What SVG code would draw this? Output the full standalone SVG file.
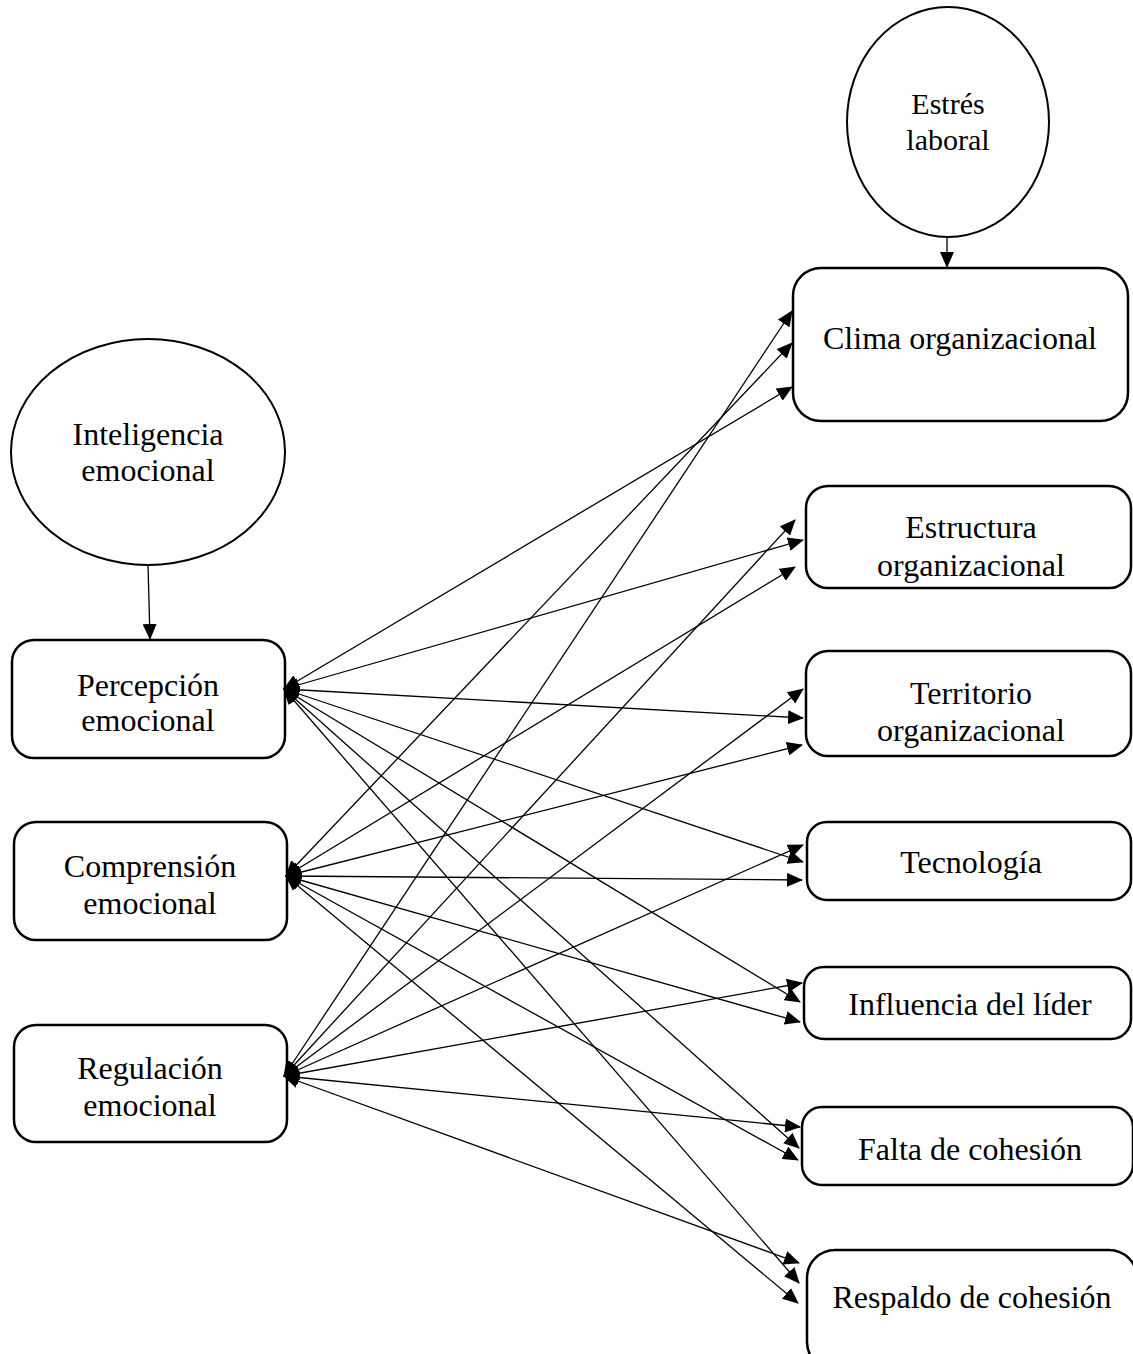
<svg xmlns="http://www.w3.org/2000/svg" width="1133" height="1354" viewBox="0 0 1133 1354">
<style>
.box{fill:#fff;stroke:#000;stroke-width:2.5}
.ell{fill:#fff;stroke:#000;stroke-width:2}
.t{font-family:"Liberation Serif","Times New Roman",serif;font-size:32px;fill:#000;text-anchor:middle}
.s{font-size:30px}
.c line{stroke:#000;stroke-width:1.3;marker-end:url(#ah);marker-start:url(#ah)}
.c line.one{marker-start:none}
</style>
<defs>
<marker id="ah" markerUnits="userSpaceOnUse" markerWidth="16" markerHeight="14" refX="15" refY="7" orient="auto-start-reverse" viewBox="0 0 16 14">
<path d="M0,0 L16,7 L0,14 Z" fill="#000"/>
</marker>
</defs>
<rect width="1133" height="1354" fill="#fff"/>
<g id="estres"><ellipse class="ell" cx="948" cy="122" rx="101" ry="115"/><text class="t s" x="948" y="114">Estrés</text><text class="t s" x="948" y="150">laboral</text></g>
<g id="inteligencia"><ellipse class="ell" cx="148" cy="452" rx="137" ry="113"/><text class="t" x="148" y="445">Inteligencia</text><text class="t" x="148" y="481">emocional</text></g>
<g id="percepcion"><rect class="box" x="12" y="640" width="273" height="118" rx="22"/><text class="t" x="148" y="696">Percepción</text><text class="t" x="148" y="731">emocional</text></g>
<g id="comprension"><rect class="box" x="14" y="822" width="273" height="118" rx="22"/><text class="t" x="150" y="877">Comprensión</text><text class="t" x="150" y="914">emocional</text></g>
<g id="regulacion"><rect class="box" x="14" y="1025" width="273" height="117" rx="22"/><text class="t" x="150" y="1079">Regulación</text><text class="t" x="150" y="1116">emocional</text></g>
<g id="clima"><rect class="box" x="793" y="268" width="335" height="153" rx="28"/><text class="t" x="960" y="349">Clima organizacional</text></g>
<g id="estructura"><rect class="box" x="806" y="486" width="325" height="102" rx="22"/><text class="t" x="971" y="538">Estructura</text><text class="t" x="971" y="576">organizacional</text></g>
<g id="territorio"><rect class="box" x="806" y="651" width="325" height="105" rx="22"/><text class="t" x="971" y="704">Territorio</text><text class="t" x="971" y="741">organizacional</text></g>
<g id="tecnologia"><rect class="box" x="807" y="822" width="324" height="78" rx="20"/><text class="t" x="971" y="873">Tecnología</text></g>
<g id="influencia"><rect class="box" x="804" y="967" width="327" height="72" rx="20"/><text class="t" x="970" y="1015">Influencia del líder</text></g>
<g id="falta"><rect class="box" x="802" y="1107" width="331" height="78" rx="20"/><text class="t" x="970" y="1160">Falta de cohesión</text></g>
<g id="respaldo"><rect class="box" x="807" y="1250" width="330" height="120" rx="28"/><text class="t" x="972" y="1308">Respaldo de cohesión</text></g>
<g class="c" id="connectors">
<line class="one" x1="947" y1="237" x2="947" y2="267"/>
<line class="one" x1="148" y1="565" x2="150" y2="639"/>
<line x1="284" y1="689" x2="792" y2="387"/>
<line x1="284" y1="689" x2="803" y2="540"/>
<line x1="284" y1="689" x2="803" y2="718"/>
<line x1="284" y1="689" x2="803" y2="862"/>
<line x1="284" y1="689" x2="800" y2="1002"/>
<line x1="284" y1="689" x2="799" y2="1148"/>
<line x1="284" y1="689" x2="799" y2="1283"/>
<line x1="286" y1="876" x2="792" y2="343"/>
<line x1="286" y1="876" x2="795" y2="567"/>
<line x1="286" y1="876" x2="802" y2="745"/>
<line x1="286" y1="876" x2="802" y2="880"/>
<line x1="286" y1="876" x2="800" y2="1022"/>
<line x1="286" y1="876" x2="798" y2="1160"/>
<line x1="286" y1="876" x2="798" y2="1303"/>
<line x1="284" y1="1076" x2="792" y2="311"/>
<line x1="284" y1="1076" x2="795" y2="520"/>
<line x1="284" y1="1076" x2="803" y2="689"/>
<line x1="284" y1="1076" x2="803" y2="845"/>
<line x1="284" y1="1076" x2="802" y2="983"/>
<line x1="284" y1="1076" x2="800" y2="1127"/>
<line x1="284" y1="1076" x2="799" y2="1263"/>
</g>
</svg>
